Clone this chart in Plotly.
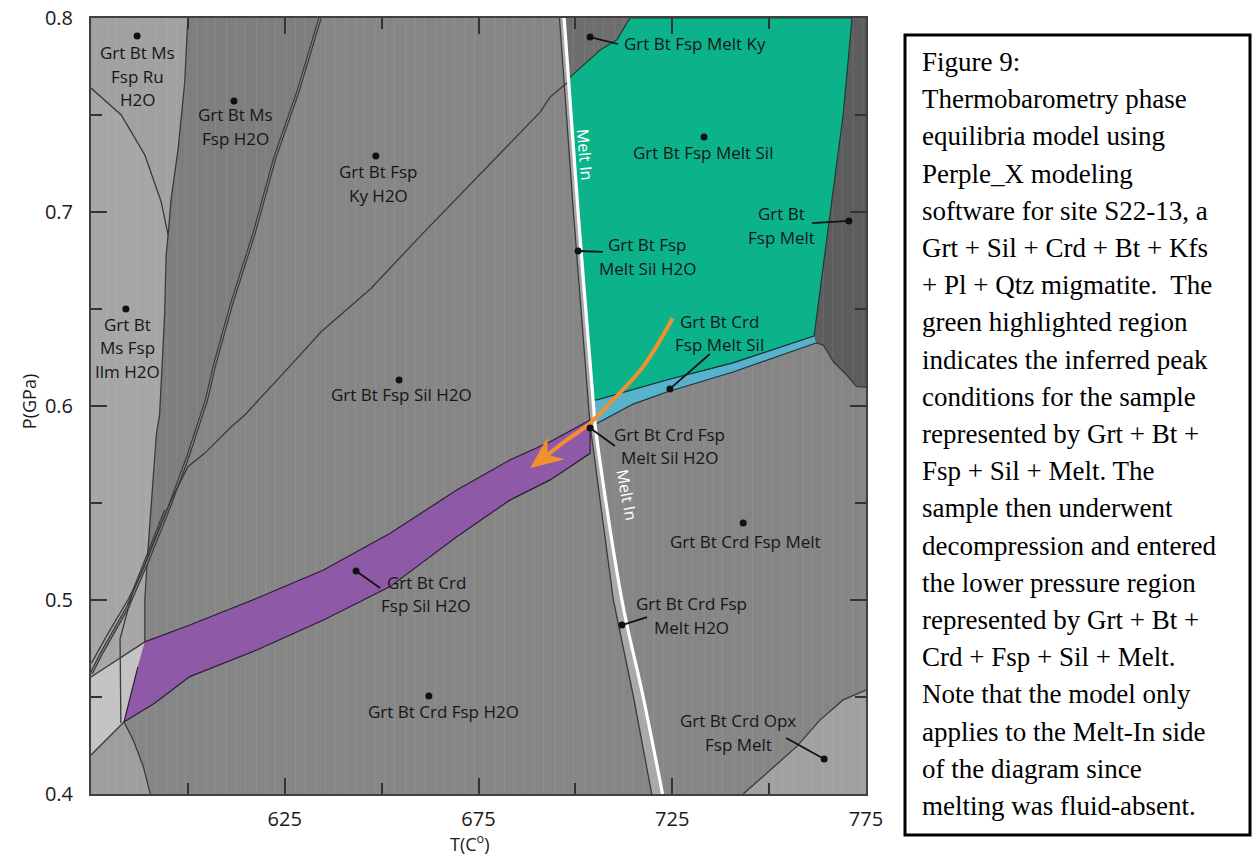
import plotly.graph_objects as go

# ---------------- axes ----------------
T_RANGE = [575, 775]
P_RANGE = [0.4, 0.8]
T_MAJOR = [625, 675, 725, 775]
T_MINOR = [600, 650, 700, 750]
P_MAJOR = [0.4, 0.5, 0.6, 0.7, 0.8]
P_MINOR = [0.45, 0.55, 0.65, 0.75]

# ---------------- phase-field boundaries (T in C, P in GPa) ----------------
melt_in_T = [697.1, 700.7, 704.7, 705.1, 712.0, 717.5, 722.5]
melt_in_P = [0.80, 0.70, 0.60, 0.5902, 0.50, 0.45, 0.40]
melt_strip_T = [695.9, 699.5, 703.4, 703.8, 709.8, 715.0, 719.7]

ru_field_T = [575, 575, 582.8, 588.9, 593.1, 594.9, 595.7, 597.5, 599.2, 599.6, 600.0]
ru_field_P = [0.80, 0.7639, 0.75, 0.7294, 0.7053, 0.6881, 0.7071, 0.7328, 0.7672, 0.7844, 0.80]

ilm_field_T = [575, 582.8, 588.9, 593.1, 594.9, 594.4, 594.0, 592.7, 591.9, 590.6, 589.7, 588.9, 588.9, 575]
ilm_field_P = [0.7639, 0.75, 0.7294, 0.7053, 0.6881, 0.6778, 0.6469, 0.5954, 0.5861, 0.5515, 0.5258, 0.50, 0.4784, 0.4603]

ms_field_T = [600.0, 599.6, 599.2, 597.5, 595.7, 594.9, 594.4, 594.0, 592.7, 591.9, 590.6, 589.8,
              594.9, 600.0, 604.8, 606.9, 611.2, 617.2, 622.4, 628.4, 634.1]
ms_field_P = [0.80, 0.7844, 0.7672, 0.7328, 0.7071, 0.6881, 0.6778, 0.6469, 0.5954, 0.5861, 0.5515, 0.523,
              0.5464, 0.5739, 0.6031, 0.6212, 0.6521, 0.6898, 0.7277, 0.762, 0.80]

light_field_T = [575, 588.9, 587.1, 583.5, 575]
light_field_P = [0.4603, 0.4784, 0.4655, 0.4371, 0.4201]

lowleft_field_T = [575, 583.5, 585.9, 588.5, 590.3, 575]
lowleft_field_P = [0.4201, 0.4371, 0.4278, 0.4141, 0.40, 0.40]

opx_field_T = [743.3, 749.4, 757.1, 763.1, 769.1, 775, 775]
opx_field_P = [0.40, 0.4107, 0.4244, 0.4381, 0.4485, 0.4536, 0.40]

ms_out_T = [634.1, 628.4, 622.4, 617.2, 611.2, 606.9, 604.8, 600.0, 594.9, 589.7, 584.5, 577.7, 575.1]
ms_out_P = [0.80, 0.762, 0.7277, 0.6898, 0.6521, 0.6212, 0.6031, 0.5739, 0.5464, 0.5206, 0.4965, 0.4725, 0.4622]

fan_T = [594.0, 586.0, 582.5, 582.7]
fan_P = [0.5464, 0.5060, 0.4800, 0.4366]

kysil_T = [697.8, 693.5, 690.9, 659.4, 647.3, 634.4, 625.8, 614.7, 611.2, 604.3, 600.0, 595.7,
           591.4, 588.0, 584.5, 579.4, 575.1]
kysil_P = [0.7665, 0.7593, 0.7515, 0.6864, 0.6607, 0.6383, 0.6194, 0.5954, 0.5893, 0.5756, 0.5687,
           0.5515, 0.5309, 0.5138, 0.50, 0.4828, 0.4674]

crd_top_ext_T = [575, 588.9]
crd_top_ext_P = [0.4603, 0.4784]
crd_bot_ext_T = [575, 583.5]
crd_bot_ext_P = [0.4201, 0.4371]

# green field: Sil/Ky boundary, right boundary, bottom, melt-in side
green_ky_T = [698.3, 706.4, 710.7, 714.1]
green_ky_P = [0.7689, 0.7835, 0.7887, 0.80]
green_right_T = [771.4, 769.1, 765.7, 762.3, 761.6]
green_right_P = [0.80, 0.75, 0.6985, 0.6469, 0.6361]
green_bottom_T = [761.6, 740.7, 723.6, 714.9, 705.6]
green_bottom_P = [0.6361, 0.6222, 0.6134, 0.6085, 0.6031]
green_left_T = [704.6, 702.8, 700.7, 698.3]
green_left_P = [0.6031, 0.65, 0.70, 0.7689]

blue_bottom_T = [705.3, 714.9, 723.6, 740.7, 762.1]
blue_bottom_P = [0.5907, 0.6010, 0.6072, 0.6175, 0.6325]

dark_bottom_T = [762.1, 764.0, 766.6, 770.0, 772.6, 775]
dark_bottom_P = [0.6325, 0.6314, 0.6228, 0.6160, 0.6100, 0.6098]

purple_top_T = [588.9, 600.5, 617.8, 635.0, 652.2, 669.4, 683.1, 693.5, 703.8]
purple_top_P = [0.4784, 0.4871, 0.5009, 0.5155, 0.5344, 0.5567, 0.5722, 0.5816, 0.5928]
purple_bot_T = [703.8, 693.5, 683.1, 669.4, 652.2, 635.0, 617.8, 600.5, 591.4, 583.5, 587.1]
purple_bot_P = [0.5756, 0.5619, 0.5515, 0.5326, 0.5069, 0.4897, 0.4742, 0.4605, 0.4468, 0.4371, 0.4655]

# decompression path
path_T = [725.1, 717.5, 708.9, 703.8, 697.8]
path_P = [0.6452, 0.6203, 0.6014, 0.5911, 0.5825]
path_tip_T, path_tip_P = 688.3, 0.5679

# ---------------- labels ----------------
label_texts = [
    "Grt Bt Ms<br>Fsp Ru<br>H2O", "Grt Bt Ms<br>Fsp H2O", "Grt Bt Fsp<br>Ky H2O",
    "Grt Bt<br>Ms Fsp<br>Ilm H2O", "Grt Bt Fsp Sil H2O", "Grt Bt Crd<br>Fsp Sil H2O",
    "Grt Bt Crd Fsp H2O", "Grt Bt Fsp Melt Ky", "Grt Bt Fsp Melt Sil",
    "Grt Bt Fsp<br>Melt Sil H2O", "Grt Bt<br>Fsp Melt", "Grt Bt Crd<br>Fsp Melt Sil",
    "Grt Bt Crd Fsp<br>Melt Sil H2O", "Grt Bt Crd Fsp Melt", "Grt Bt Crd Fsp<br>Melt H2O",
    "Grt Bt Crd Opx<br>Fsp Melt",
]
label_T = [586.9, 612.2, 649.1, 584.3, 655.0, 661.5, 666.0, 712.0, 732.9, 718.7, 753.3, 737.3,
           724.4, 743.8, 729.9, 742.0]
label_P = [0.7701, 0.7441, 0.7147, 0.6299, 0.6057, 0.5031, 0.4423, 0.7871, 0.7309, 0.6771, 0.6930,
           0.6376, 0.5794, 0.5299, 0.4920, 0.4317]
label_anchor = ["center"] * 7 + ["left"] + ["center"] * 8
dot_T = [586.9, 611.9, 648.5, 584.0, 654.5, 643.4, 662.2, 703.8, 733.2, 700.7, 770.6, 724.4,
         703.8, 743.3, 712.0, 764.2]
dot_P = [0.7907, 0.7572, 0.7289, 0.6500, 0.6134, 0.5150, 0.4505, 0.7902, 0.7387, 0.6799, 0.6954,
         0.6088, 0.5887, 0.5397, 0.4871, 0.4180]
leader_T = [None, None, None, None, None, 649.6, None, 711.0, None, 707.1, 761.1, 734.7,
            710.2, None, 718.5, 754.4]
leader_P = [None, None, None, None, None, 0.5062, None, 0.7866, None, 0.6794, 0.6943, 0.6268,
            0.5794, None, 0.4912, 0.4289]

melt_in_label_T = [702.5, 713.3]
melt_in_label_P = [0.7294, 0.5541]
melt_in_label_angle = [85, 79]

caption_lines = [
    "Figure 9:", "Thermobarometry phase", "equilibria model using", "Perple_X modeling",
    "software for site S22-13, a", "Grt + Sil + Crd + Bt + Kfs",
    "+ Pl + Qtz migmatite.&nbsp; The", "green highlighted region", "indicates the inferred peak",
    "conditions for the sample", "represented by Grt + Bt +", "Fsp + Sil + Melt. The",
    "sample then underwent", "decompression and entered", "the lower pressure region",
    "represented by Grt + Bt +", "Crd + Fsp + Sil + Melt.", "Note that the model only",
    "applies to the Melt-In side", "of the diagram since", "melting was fluid-absent.",
]

# ---------------- geometry helpers (layout) ----------------
ML, MR, MT, MB = 91, 391, 18, 65
W, H = 1257, 859
PLOT_W = W - ML - MR
PLOT_H = H - MT - MB
SX = PLOT_W / (T_RANGE[1] - T_RANGE[0])   # px per degree
SY = PLOT_H / (P_RANGE[1] - P_RANGE[0])   # px per GPa

fig = go.Figure()
LINE = "#3a3a3a"


def poly(T, P, color, line_color=None, lw=0):
    fig.add_trace(go.Scatter(x=T, y=P, mode="lines", fill="toself", fillcolor=color,
                             line=dict(color=line_color or color, width=lw),
                             hoverinfo="skip", showlegend=False))


def curve(T, P, color=LINE, width=1.3, shape="linear"):
    fig.add_trace(go.Scatter(x=T, y=P, mode="lines", line=dict(color=color, width=width, shape=shape),
                             hoverinfo="skip", showlegend=False))


# grey fields
poly(ms_field_T, ms_field_P, "#7e7e7e")
poly(ru_field_T, ru_field_P, "#a1a1a1")
poly(ilm_field_T, ilm_field_P, "#a6a6a6")
poly(light_field_T, light_field_P, "#c3c3c3")
poly(lowleft_field_T, lowleft_field_P, "#9e9e9e")
poly(opx_field_T, opx_field_P, "#a1a1a1")
poly(melt_strip_T + melt_in_T[::-1], melt_in_P + melt_in_P[::-1], "#a8a8a8")
poly(green_right_T + dark_bottom_T + [775, 775], green_right_P + dark_bottom_P + [0.8, 0.8], "#5d5d5d")
# Grt Bt Fsp Melt Ky field (between melt-in and the Ky/Sil boundary)
poly([melt_in_T[0]] + green_ky_T, [melt_in_P[0]] + green_ky_P, "#6e6e6e")

# faint vertical raster texture of the pseudosection (decorative)
stripe_x, stripe_y = [], []
k = 0
t = T_RANGE[0] + 1.3
while t < T_RANGE[1]:
    stripe_x += [t, t, None]
    stripe_y += [P_RANGE[0], P_RANGE[1], None]
    t += 2.4 + 0.5 * (k % 3 == 0)
    k += 1
fig.add_trace(go.Scatter(x=stripe_x, y=stripe_y, mode="lines",
                         line=dict(color="rgba(255,255,255,0.07)", width=1.2),
                         hoverinfo="skip", showlegend=False))

# coloured fields
poly(green_ky_T + green_right_T + green_bottom_T + green_left_T,
     green_ky_P + green_right_P + green_bottom_P + green_left_P, "#0cb38a", "#1d3b33", 1.2)
poly(green_bottom_T + [704.6, 705.1] + blue_bottom_T,
     green_bottom_P + [0.6031, 0.5902] + blue_bottom_P, "#57b3cb", "#1d3340", 1.2)
poly(purple_top_T + purple_bot_T, purple_top_P + purple_bot_P, "#8e5aa7", "#2c1d33", 1.2)

# boundary lines
curve(ru_field_T[1:6], ru_field_P[1:6])
curve(ru_field_T[5:], ru_field_P[5:])
curve(ilm_field_T[4:13], ilm_field_P[4:13])
curve(ms_out_T, ms_out_P, LINE, 3.4)
curve(ms_out_T, ms_out_P, "#8c8c8c", 1.0)
curve(fan_T, fan_P)
curve(kysil_T, kysil_P)
curve(crd_top_ext_T, crd_top_ext_P)
curve(crd_bot_ext_T, crd_bot_ext_P)
curve(lowleft_field_T[1:5], lowleft_field_P[1:5])
curve(opx_field_T[:6], opx_field_P[:6])
curve(dark_bottom_T, dark_bottom_P)
curve(melt_strip_T, melt_in_P)

# melt-in line
curve(melt_in_T, melt_in_P, "white", 3.2, "spline")

# decompression path with a notched arrow head
ORANGE = "#f0902f"
dx = (path_tip_T - path_T[-1]) * SX
dy = -(path_tip_P - path_P[-1]) * SY
L = (dx * dx + dy * dy) ** 0.5
ux, uy = dx / L, dy / L
nx, ny = -uy, ux
HEAD_L, HEAD_W, NOTCH = 33, 14, 22


def to_data(px, py):
    return path_tip_T + px / SX, path_tip_P - py / SY


w1 = to_data(-ux * HEAD_L + nx * HEAD_W, -uy * HEAD_L + ny * HEAD_W)
w2 = to_data(-ux * HEAD_L - nx * HEAD_W, -uy * HEAD_L - ny * HEAD_W)
notch = to_data(-ux * NOTCH, -uy * NOTCH)
curve(path_T + [notch[0]], path_P + [notch[1]], ORANGE, 4, "spline")
poly([path_tip_T, w1[0], notch[0], w2[0]], [path_tip_P, w1[1], notch[1], w2[1]], ORANGE)

# leaders and dots
for i in range(len(label_texts)):
    if leader_T[i] is not None:
        curve([dot_T[i], leader_T[i]], [dot_P[i], leader_P[i]], "#111111", 1.8)
fig.add_trace(go.Scatter(x=dot_T, y=dot_P, mode="markers", marker=dict(color="#111111", size=7),
                         hoverinfo="skip", showlegend=False))

LABEL_FONT = dict(family="Open Sans", size=17, color="#161616")
LINE_H = 23.5
for txt, t, p, anc in zip(label_texts, label_T, label_P, label_anchor):
    parts = txt.split("<br>")
    n = len(parts)
    for i, part in enumerate(parts):
        fig.add_annotation(x=t, y=p, xref="x", yref="y", text=part, showarrow=False,
                           xanchor=anc, yanchor="middle", yshift=((n - 1) / 2 - i) * LINE_H,
                           font=LABEL_FONT)

for t, p, a in zip(melt_in_label_T, melt_in_label_P, melt_in_label_angle):
    fig.add_annotation(x=t, y=p, xref="x", yref="y", text="Melt In", showarrow=False, textangle=a,
                       font=dict(family="Open Sans", size=16, color="white"))

# axis titles
fig.add_annotation(x=-0.098, y=0.505, xref="paper", yref="paper", text="P(GPa)", showarrow=False,
                   textangle=-90, font=dict(family="Open Sans", size=18, color="#1a1a1a"))
fig.add_annotation(x=0.489, y=-0.063, xref="paper", yref="paper", text="T(C<sup>o</sup>)",
                   showarrow=False, yanchor="middle", font=dict(family="Open Sans", size=18, color="#1a1a1a"))

# caption box
fig.add_shape(type="rect", xref="paper", yref="paper", x0=(905 - ML) / PLOT_W, x1=(1250 - ML) / PLOT_W,
              y0=1 - (835 - MT) / PLOT_H, y1=1 - (35 - MT) / PLOT_H,
              line=dict(color="black", width=3), fillcolor="white")
for i, line in enumerate(caption_lines):
    ypx = 62 + 37.2 * i
    fig.add_annotation(x=(920 - ML) / PLOT_W, y=1 - (ypx - MT) / PLOT_H, xref="paper", yref="paper",
                       text=line, showarrow=False, xanchor="left", yanchor="middle",
                       font=dict(family="Liberation Serif", size=27, color="black"))

axis_common = dict(showgrid=False, zeroline=False, showline=True, linewidth=2, linecolor="#404040",
                   mirror="ticks", ticks="inside", ticklen=16, tickwidth=2, tickcolor="#333333",
                   automargin=False, tickfont=dict(family="Open Sans", size=20, color="#1a1a1a"))
fig.update_xaxes(range=T_RANGE, tickmode="array", tickvals=T_MAJOR,
                 minor=dict(tickvals=T_MINOR, ticks="inside", ticklen=11, tickwidth=2, tickcolor="#333333"),
                 ticklabelstandoff=6, **axis_common)
fig.update_yaxes(range=P_RANGE, tickmode="array", tickvals=P_MAJOR,
                 ticktext=["0.4", "0.5", "0.6", "0.7", "0.8"],
                 minor=dict(tickvals=P_MINOR, ticks="inside", ticklen=11, tickwidth=2, tickcolor="#333333"),
                 ticklabelstandoff=12, **axis_common)

fig.update_layout(width=W, height=H, margin=dict(l=ML, r=MR, t=MT, b=MB),
                  plot_bgcolor="#868686", paper_bgcolor="white", showlegend=False)

fig.write_html("out.html")
